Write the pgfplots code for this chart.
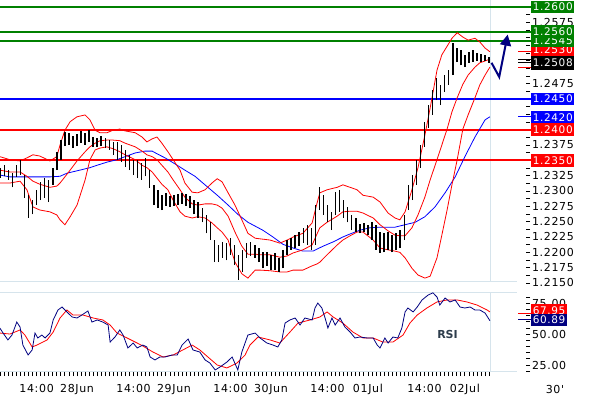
\documentclass[border=0pt]{standalone}
\usepackage{fontspec}
\setmainfont{DejaVu Sans}
\newfontfamily\lblfont[LetterSpace=6]{DejaVu Sans}
\usepackage{pgfplots}
\pgfplotsset{compat=1.18}
\usepackage{pgfplotstable}
\usetikzlibrary{arrows.meta}
\definecolor{cred}{HTML}{FF0000}
\definecolor{cblue}{HTML}{0000FF}
\definecolor{cgreen}{HTML}{008000}
\definecolor{cnavy}{HTML}{000080}
\definecolor{cpanel}{HTML}{D6E4EC}
\definecolor{crsi}{HTML}{2E3D4C}
\newcommand{\lf}{\lblfont\fontsize{11}{13}\selectfont}
\newcommand{\boxfont}{\lblfont\fontsize{10.5}{12}\selectfont}

\pgfplotstableread{
h hi lo
-19 1.2338 1.2321
-18 1.2342 1.2324
-17 1.2334 1.2318
-16 1.2329 1.2306
-15 1.2342 1.2323
-14 1.2351 1.2326
-13 1.2326 1.2289
-12 1.2293 1.2256
-11 1.2285 1.2262
-10 1.2302 1.2277
-9 1.2315 1.2285
-8 1.2321 1.2289
-7 1.2318 1.2282
-6 1.2338 1.2310
-5 1.2364 1.2334
-4 1.2383 1.2351
-3 1.2396 1.2373
-2 1.2395 1.2375
-1 1.2390 1.2370
0 1.2393 1.2373
1 1.2398 1.2378
2 1.2395 1.2375
3 1.2399 1.2380
4 1.2388 1.2372
5 1.2386 1.2372
6 1.2390 1.2373
7 1.2386 1.2370
8 1.2383 1.2367
9 1.2380 1.2359
10 1.2380 1.2351
11 1.2375 1.2347
12 1.2367 1.2339
13 1.2359 1.2334
14 1.2351 1.2326
15 1.2351 1.2321
16 1.2346 1.2318
17 1.2354 1.2324
18 1.2334 1.2305
19 1.2310 1.2277
20 1.2302 1.2272
21 1.2293 1.2269
22 1.2297 1.2276
23 1.2292 1.2274
24 1.2293 1.2276
25 1.2295 1.2277
26 1.2297 1.2279
27 1.2295 1.2276
28 1.2292 1.2272
29 1.2285 1.2262
30 1.2282 1.2256
31 1.2272 1.2249
32 1.2261 1.2231
33 1.2249 1.2220
34 1.2220 1.2184
35 1.2212 1.2184
36 1.2217 1.2191
37 1.2215 1.2187
38 1.2223 1.2196
39 1.2212 1.2179
40 1.2196 1.2155
41 1.2204 1.2168
42 1.2215 1.2191
43 1.2217 1.2194
44 1.2212 1.2191
45 1.2207 1.2184
46 1.2200 1.2174
47 1.2200 1.2178
48 1.2196 1.2171
49 1.2199 1.2171
50 1.2191 1.2168
51 1.2204 1.2174
52 1.2220 1.2196
53 1.2223 1.2204
54 1.2228 1.2207
55 1.2233 1.2210
56 1.2240 1.2215
57 1.2245 1.2212
58 1.2240 1.2204
59 1.2277 1.2212
60 1.2306 1.2269
61 1.2293 1.2261
62 1.2277 1.2249
63 1.2266 1.2236
64 1.2298 1.2261
65 1.2302 1.2266
66 1.2285 1.2256
67 1.2274 1.2249
68 1.2261 1.2236
69 1.2256 1.2233
70 1.2246 1.2231
71 1.2248 1.2233
72 1.2245 1.2228
73 1.2249 1.2220
74 1.2245 1.2204
75 1.2233 1.2199
76 1.2231 1.2200
77 1.2233 1.2204
78 1.2228 1.2200
79 1.2231 1.2204
80 1.2236 1.2207
81 1.2261 1.2220
82 1.2310 1.2269
83 1.2326 1.2285
84 1.2351 1.2310
85 1.2375 1.2338
86 1.2413 1.2372
87 1.2440 1.2403
88 1.2465 1.2424
89 1.2484 1.2448
90 1.2473 1.2440
91 1.2489 1.2461
92 1.2497 1.2473
93 1.2541 1.2489
94 1.2533 1.2510
95 1.2530 1.2505
96 1.2522 1.2502
97 1.2527 1.2509
98 1.2530 1.2510
99 1.2525 1.2512
100 1.2523 1.2510
101 1.2522 1.2512
102 1.2518 1.2509
}\bars

\pgfplotstableread{
h up mid lo
-19.1 1.2356 1.2334 1.2313
-16.6 1.2351 1.2331 1.2313
-14.1 1.2349 1.2331 1.2316
-12.4 1.2354 1.2324 1.2302
-10.9 1.2359 1.2316 1.2274
-9.2 1.2357 1.2311 1.2269
-6.7 1.2349 1.2306 1.2266
-5.0 1.2356 1.2308 1.2261
-4.2 1.2375 1.2313 1.2253
-3.0 1.2399 1.2323 1.2245
-1.7 1.2413 1.2334 1.2258
0.0 1.2421 1.2349 1.2277
2.0 1.2424 1.2364 1.2318
3.2 1.2416 1.2372 1.2351
4.5 1.2399 1.2378 1.2367
5.7 1.2395 1.2382 1.2370
7.4 1.2395 1.2383 1.2372
8.9 1.2399 1.2383 1.2369
10.6 1.2401 1.2382 1.2364
11.9 1.2398 1.2378 1.2359
14.4 1.2395 1.2372 1.2351
16.1 1.2388 1.2365 1.2342
17.3 1.2380 1.2359 1.2338
18.6 1.2385 1.2356 1.2331
19.8 1.2388 1.2351 1.2321
21.0 1.2378 1.2342 1.2311
22.5 1.2364 1.2331 1.2302
23.8 1.2351 1.2318 1.2285
25.5 1.2334 1.2302 1.2266
26.7 1.2313 1.2290 1.2259
28.5 1.2298 1.2279 1.2256
29.9 1.2297 1.2277 1.2258
31.7 1.2302 1.2279 1.2256
33.4 1.2313 1.2279 1.2248
34.7 1.2320 1.2277 1.2240
35.9 1.2315 1.2272 1.2233
37.4 1.2297 1.2259 1.2220
39.1 1.2277 1.2233 1.2184
40.8 1.2253 1.2210 1.2165
42.3 1.2231 1.2197 1.2158
44.1 1.2223 1.2197 1.2171
45.3 1.2222 1.2196 1.2171
47.8 1.2220 1.2196 1.2170
50.2 1.2215 1.2192 1.2168
52.0 1.2220 1.2194 1.2168
53.5 1.2225 1.2199 1.2171
55.9 1.2231 1.2204 1.2171
58.2 1.2248 1.2212 1.2178
59.4 1.2280 1.2230 1.2181
60.1 1.2297 1.2240 1.2184
61.9 1.2302 1.2249 1.2196
64.4 1.2306 1.2259 1.2212
65.8 1.2310 1.2266 1.2220
67.6 1.2306 1.2267 1.2227
69.3 1.2302 1.2267 1.2233
70.8 1.2293 1.2264 1.2233
73.3 1.2290 1.2256 1.2220
75.0 1.2282 1.2245 1.2207
77.0 1.2264 1.2235 1.2204
78.7 1.2256 1.2228 1.2202
79.9 1.2253 1.2227 1.2200
81.2 1.2266 1.2227 1.2191
82.9 1.2302 1.2240 1.2174
84.4 1.2338 1.2261 1.2163
86.1 1.2391 1.2290 1.2158
87.4 1.2435 1.2318 1.2161
89.1 1.2497 1.2351 1.2191
90.3 1.2522 1.2375 1.2228
91.6 1.2536 1.2401 1.2269
92.8 1.2549 1.2429 1.2310
94.1 1.2558 1.2452 1.2351
95.5 1.2551 1.2474 1.2401
96.8 1.2546 1.2489 1.2424
98.5 1.2549 1.2502 1.2452
99.7 1.2543 1.2509 1.2473
101.0 1.2533 1.2512 1.2489
102.2 1.2527 1.2515 1.2502
}\bands

\pgfplotstableread{
h v
-19.1 1.2326
-16.6 1.2323
-11.6 1.2323
-6.7 1.2323
-4.2 1.2324
-2.5 1.2329
0.7 1.2334
3.2 1.2338
5.0 1.2342
7.4 1.2347
9.9 1.2351
11.9 1.2356
14.4 1.2362
16.8 1.2365
18.6 1.2365
20.0 1.2360
21.8 1.2354
24.3 1.2344
26.7 1.2334
29.2 1.2324
32.4 1.2306
34.9 1.2292
37.4 1.2277
39.8 1.2262
42.3 1.2249
46.0 1.2236
48.5 1.2225
51.0 1.2213
53.5 1.2207
55.9 1.2202
58.4 1.2202
60.9 1.2210
63.4 1.2217
65.8 1.2225
67.6 1.2230
70.0 1.2236
72.5 1.2240
75.0 1.2241
78.7 1.2241
81.2 1.2245
83.7 1.2249
86.1 1.2258
88.6 1.2274
91.1 1.2297
93.6 1.2323
96.0 1.2356
98.5 1.2388
101.0 1.2416
102.2 1.2421
}\mavg

\pgfplotstableread{
h v
-19.1 55.0
-18.3 50.9
-17.1 45.3
-16.1 49.3
-14.9 59.8
-14.1 55.8
-13.4 41.2
-12.1 33.1
-11.1 37.2
-10.4 50.9
-9.7 46.9
-8.7 49.3
-7.9 46.9
-6.7 50.9
-5.9 61.5
-4.7 69.6
-3.7 72.0
-2.5 68.0
-1.2 63.9
0.0 63.1
1.2 65.5
2.7 68.8
3.7 59.8
5.0 61.5
6.4 59.8
7.7 57.4
8.2 43.6
9.4 47.7
10.6 53.4
11.4 49.3
12.6 38.8
13.9 42.8
14.9 38.8
16.3 41.2
17.3 39.6
18.1 31.5
19.3 29.1
20.5 31.5
21.8 31.5
23.5 33.1
24.8 33.1
26.0 41.2
27.5 46.1
28.7 37.2
30.4 35.5
31.7 29.1
32.9 26.6
34.2 21.0
35.4 23.4
37.1 27.4
38.4 31.5
39.8 21.0
40.8 35.5
42.3 49.3
44.1 50.9
45.3 46.9
47.0 42.8
48.5 41.2
49.7 39.6
50.7 45.3
51.5 59.0
52.7 61.5
54.0 63.1
55.2 57.4
56.4 63.1
58.2 61.5
58.9 71.2
59.6 75.2
60.6 71.2
61.4 63.1
62.1 55.0
63.1 63.1
63.9 57.4
65.1 63.1
66.3 55.8
67.6 51.7
68.8 46.9
70.0 47.7
71.8 46.9
73.3 46.9
74.3 41.2
75.0 38.8
76.2 46.9
77.0 42.8
78.2 47.7
79.4 46.9
80.4 55.0
81.2 68.0
81.9 71.2
83.2 68.0
84.2 72.0
85.4 77.7
86.9 81.7
88.1 83.5
89.1 80.1
89.8 73.6
91.1 79.3
92.3 76.1
93.6 77.7
94.8 72.0
96.0 71.2
97.3 72.0
98.5 69.6
99.7 69.6
101.0 67.1
102.2 60.9
}\rsi

\pgfplotstableread{
h v
-19.1 50.9
-16.6 50.1
-14.1 53.4
-12.9 49.3
-11.1 39.6
-9.9 41.2
-7.4 45.3
-5.9 51.7
-4.2 63.1
-2.5 69.6
-1.0 65.5
1.5 65.5
4.0 63.1
6.4 61.5
8.2 57.4
9.9 50.9
12.4 46.9
14.9 42.8
16.3 40.4
18.8 35.5
21.3 31.5
23.8 33.1
26.2 37.2
28.5 41.2
30.4 37.2
32.4 31.5
34.7 25.0
37.1 22.6
39.6 26.6
41.6 33.1
42.8 41.2
44.8 47.7
47.8 45.3
50.2 42.8
52.7 51.7
54.7 59.0
57.7 61.5
60.1 63.9
61.9 68.0
63.4 63.9
65.8 59.0
68.3 51.7
70.8 46.9
73.3 46.9
75.7 43.6
78.2 43.6
80.7 49.3
82.4 59.0
84.2 65.5
86.6 71.2
89.1 76.1
91.6 77.7
94.1 77.7
96.5 76.1
99.0 73.6
101.5 69.6
102.2 68.0
}\rsisig

\begin{document}
\begin{tikzpicture}[
  lbox/.style={anchor=west, text=white, font=\boxfont, inner xsep=1.5pt, inner ysep=0pt, minimum height=12.5pt}]

\begin{axis}[
  at={(0pt,0pt)}, anchor=north west,
  scale only axis, width=526pt, height=295pt,
  xmin=-19.06, xmax=111.13, ymin=1.21304, ymax=1.26114,
  clip=false,
  axis line style={draw=none},
  xtick=\empty,
  ytick={1.2150,1.2175,1.2200,1.2225,1.2250,1.2275,1.2300,1.2325,1.2350,1.2375,1.2400,1.2425,1.2450,1.2475,1.2500,1.2525,1.2550,1.2575,1.2600},
  yticklabels={1.2150,1.2175,1.2200,1.2225,1.2250,1.2275,1.2300,1.2325,,1.2375,,,,1.2475,,,,1.2575,},
  minor y tick num=1,
  ytick pos=right, yticklabel pos=right,
  tick align=outside, major tick length=4pt, minor tick length=4pt,
  tick style={black, line width=0.8pt},
  yticklabel style={font=\lf, xshift=-1.5pt},
]
% panel frame
\addplot[cpanel, line width=1pt] coordinates {(-19.06,1.21532) (108.9,1.21532)};
\addplot[cpanel, line width=1pt] coordinates {(102.3,1.21532) (102.3,1.26114)};
% support / resistance levels
\addplot[cgreen, line width=2pt] coordinates {(-19.06,1.2600) (112.4,1.2600)};
\addplot[cgreen, line width=2pt] coordinates {(-19.06,1.2560) (112.4,1.2560)};
\addplot[cgreen, line width=2pt] coordinates {(-19.06,1.2545) (112.4,1.2545)};
\addplot[cblue, line width=2pt] coordinates {(-19.06,1.2450) (112.4,1.2450)};
\addplot[cred, line width=2pt] coordinates {(-19.06,1.2400) (112.4,1.2400)};
\addplot[cred, line width=2pt] coordinates {(-19.06,1.2350) (112.4,1.2350)};
% indicators
\addplot[cblue, line width=0.8pt] table[x=h, y=v] {\mavg};
\addplot[cred, line width=0.8pt] table[x=h, y=up] {\bands};
\addplot[cred, line width=0.8pt] table[x=h, y=mid] {\bands};
\addplot[cred, line width=0.8pt] table[x=h, y=lo] {\bands};
% price bars (high-low ranges)
\addplot[black, line width=1.5pt, mark=none, -,
  quiver={u=0, v=\thisrow{hi}-\thisrow{lo}, scale arrows=1}]
  table[x=h, y=lo] {\bars};
% projection arrow
\addplot[cnavy, line width=2pt, -{Triangle[width=11pt,length=11pt]}] coordinates {(102.6,1.2509) (104.5,1.2486) (106.6,1.2555)};
% value pointers
\addplot[cred, line width=1pt] coordinates {(109.2,1.2527) (112.4,1.2527)};
\addplot[black, line width=1pt] coordinates {(109.2,1.2514) (112.4,1.2514)};
\addplot[black, line width=1pt] coordinates {(109.2,1.2509) (112.4,1.2509)};
\addplot[cred, line width=1pt] coordinates {(109.2,1.2502) (112.4,1.2502)};
\addplot[cblue, line width=1pt] coordinates {(109.2,1.2421) (112.4,1.2421)};
\coordinate (b2600) at (axis cs:112.4,1.2600);
\coordinate (b2560) at (axis cs:112.4,1.2560);
\coordinate (b2545) at (axis cs:112.4,1.2545);
\coordinate (b2530) at (axis cs:112.4,1.2530);
\coordinate (b2508) at (axis cs:112.4,1.2509);
\coordinate (b2450) at (axis cs:112.4,1.2450);
\coordinate (b2420) at (axis cs:112.4,1.2420);
\coordinate (b2400) at (axis cs:112.4,1.2400);
\coordinate (b2350) at (axis cs:112.4,1.2350);
\end{axis}

\begin{axis}[
  at={(0pt,-292pt)}, anchor=north west,
  scale only axis, width=526pt, height=80pt,
  xmin=-19.06, xmax=111.13, ymin=19.33, ymax=84.16,
  clip=false,
  axis line style={draw=none},
  xtick={-10,0,14,24,38,48,62,72,86,96},
  xticklabels={14:00,28Jun,14:00,29Jun,14:00,30Jun,14:00,01Jul,14:00,02Jul},
  minor xtick={-19,...,102},
  xtick pos=left, ytick pos=right, yticklabel pos=right,
  ytick={25,50,75}, minor ytick={20,30,35,40,45,55,60,65,70,80},
  tick align=outside, major tick length=4pt, minor tick length=4pt,
  tick style={black, line width=0.8pt},
  xticklabel style={font=\lf, yshift=-5pt},
  yticklabel style={font=\lf, xshift=-1.5pt, /pgf/number format/.cd, fixed, fixed zerofill, precision=2, assume math mode=true},
]
\addplot[cpanel, line width=1pt] coordinates {(-19.06,84.0) (108.9,84.0)};
\addplot[cpanel, line width=1pt] coordinates {(-19.06,20.1) (108.9,20.1)};
\addplot[cpanel, line width=1pt] coordinates {(102.3,20.1) (102.3,84.0)};
\addplot[cred, line width=0.8pt] table[x=h, y=v] {\rsisig};
\addplot[cnavy, line width=0.8pt] table[x=h, y=v] {\rsi};
\addplot[cred, line width=1pt] coordinates {(109.2,67.1) (112.4,67.1)};
\addplot[cnavy, line width=1pt] coordinates {(109.2,61.5) (112.4,61.5)};
\node[font=\bfseries\fontsize{11}{13}\selectfont, text=crsi] at (axis cs:91.7,49.6) {RSI};
\coordinate (r1) at (axis cs:112.4,69.3);
\coordinate (r2) at (axis cs:112.4,61.5);
\end{axis}

\node[lbox, fill=cred] at (b2530) {1.2530};
\node[lbox, fill=cgreen] at (b2545) {1.2545};
\node[lbox, fill=cgreen] at (b2560) {1.2560};
\node[lbox, fill=cgreen] at (b2600) {1.2600};
\node[lbox, fill=black, minimum height=14pt] at (b2508) {1.2508};
\node[lbox, fill=cblue] at (b2450) {1.2450};
\node[lbox, fill=cblue] at (b2420) {1.2420};
\node[lbox, fill=cred] at (b2400) {1.2400};
\node[lbox, fill=cred] at (b2350) {1.2350};
\node[lbox, fill=cred] at (r1) {67.95};
\node[lbox, fill=cnavy] at (r2) {60.89};
\node[font=\lf] at (555pt,-389pt) {30'};

\pgfresetboundingbox
\path[use as bounding box] (0pt,0pt) rectangle (590pt,-400pt);
\end{tikzpicture}
\end{document}
